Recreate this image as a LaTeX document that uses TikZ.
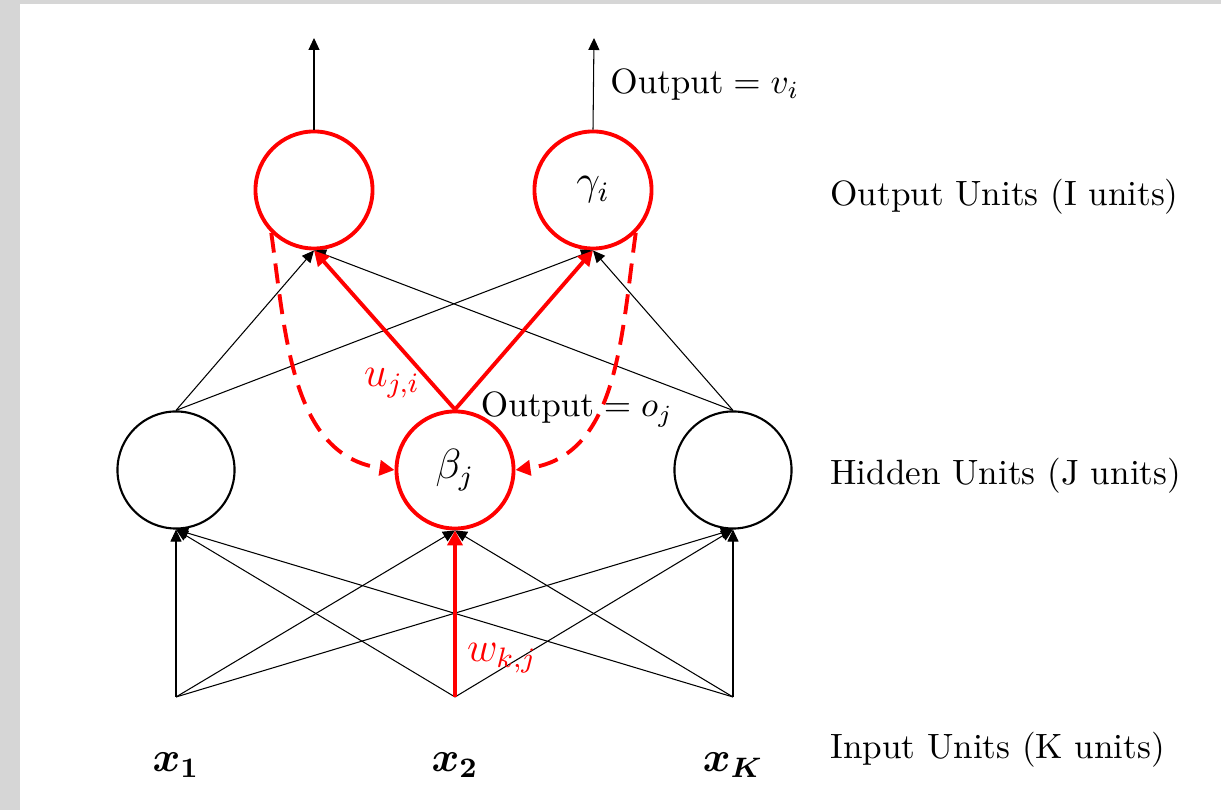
\documentclass[tikz,border=0pt]{standalone}
\usepackage{bm}
\usepackage{xcolor}
\definecolor{unitRed}{HTML}{FF0000}
\definecolor{frameGray}{HTML}{D6D6D6}
\definecolor{darkText}{HTML}{000000}
\usepackage{tikz}
\usetikzlibrary{
    arrows.meta
}
\tikzset{
    % Base style for all units
    unit base/.style={
        circle,
        minimum size=1.17cm,
        inner sep=0pt,
        font=\large,
        text=darkText,
    },
    % Units on the highlighted path - red ring
    active unit/.style={
        unit base,
        draw=unitRed,
        line width=1.1pt,
    },
    % Other hidden units - thin black ring
    plain unit/.style={
        unit base,
        draw=black,
        line width=0.6pt,
    },
    % Thin black connection
    link/.style={
        -{Triangle[length=1.2mm, width=1.1mm]},
        line width=0.3pt,
        draw=black,
    },
    % Thick red connection
    active link/.style={
        -{Triangle[length=1.5mm, width=1.5mm]},
        line width=1.1pt,
        draw=unitRed,
    },
    % Dashed red back path
    back link/.style={
        active link,
        dash pattern=on 2mm off 1.1mm,
    },
    % Layer names on the right
    layer label/.style={
        anchor=west,
        font=\normalsize,
        text=darkText,
    },
    % Red weight labels
    weight label/.style={
        text=unitRed,
        font=\large,
    },
}

\begin{document}
\begin{tikzpicture}[x=0.01cm, y=0.01cm]
    % frame
    \useasboundingbox (0,0) rectangle (1221,810);
    \fill[frameGray] (0,0) rectangle (1221,810);
    \fill[white] (20,0) rectangle (1221,806);

    % units
    \node (o1) [active unit] at (314,620) {};
    \node (o2) [active unit] at (593,620) {$\gamma_i$};
    \node (h1) [plain unit] at (176,340) {};
    \node (h2) [active unit] at (455,340) {$\beta_j$};
    \node (h3) [plain unit] at (733,340) {};

    \coordinate (top1) at (314,772);
    \coordinate (top2) at (594,772);
    \coordinate (in1) at (176,113);
    \coordinate (in2) at (455,113);
    \coordinate (in3) at (733,113);

    \node (x1) [font=\large] at (176,45) {$\bm{x_1}$};
    \node (x2) [font=\large] at (455,45) {$\bm{x_2}$};
    \node (xK) [font=\large] at (733,45) {$\bm{x_K}$};

    % outputs
    \draw [link] (o1.north) -- (top1);
    \draw [link] (o2.north) -- (top2);

    % hidden to output
    \draw [link] (h1.north) -- (o1.south);
    \draw [link] (h1.north) -- (o2.south);
    \draw [link] (h3.north) -- (o1.south);
    \draw [link] (h3.north) -- (o2.south);
    \draw [active link] (h2.north) -- (o1.south);
    \draw [active link] (h2.north) -- (o2.south);

    % input to hidden
    \draw [link] (in1) -- (h1.south);
    \draw [link] (in1) -- (h2.south);
    \draw [link] (in1) -- (h3.south);
    \draw [link] (in2) -- (h1.south);
    \draw [link] (in2) -- (h3.south);
    \draw [link] (in3) -- (h1.south);
    \draw [link] (in3) -- (h2.south);
    \draw [link] (in3) -- (h3.south);
    \draw [active link] (in2) -- (h2.south);

    % back path
    \draw [back link] (o1.225) to[out=-82, in=172] (h2.west);
    \draw [back link] (o2.-45) to[out=-98, in=8] (h2.east);

    % labels
    \node (outv) [anchor=west] at (598,725) {$\mathrm{Output} = v_i$};
    \node (outo) at (577,400) {$\mathrm{Output} = o_j$};
    \node (uji) [weight label] at (392,427) {$u_{j,i}$};
    \node (wkj) [weight label] at (502,152) {$w_{k,j}$};

    \node (outname) [layer label] at (818,613) {Output Units (I units)};
    \node (hidname) [layer label] at (818,334) {Hidden Units (J units)};
    \node (inname) [layer label] at (818,60) {Input Units (K units)};
\end{tikzpicture}
\end{document}
